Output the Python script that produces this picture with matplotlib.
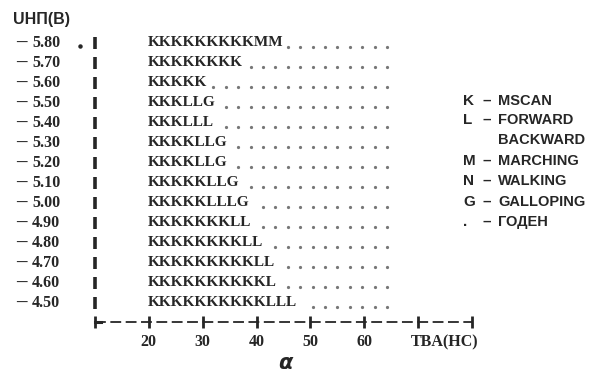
import matplotlib
matplotlib.use("Agg")
import matplotlib.pyplot as plt

# ---- data ----
voltages = [5.80, 5.70, 5.60, 5.50, 5.40, 5.30, 5.20, 5.10, 5.00, 4.90, 4.80, 4.70, 4.60, 4.50]
voltage_labels = ["5.80", "5.70", "5.60", "5.50", "5.40", "5.30", "5.20",
                  "5.10", "5.00", "4.90", "4.80", "4.70", "4.60", "4.50"]
rows = [
    "KKKKKKKKKMM.........",
    "KKKKKKKK............",
    "KKKKK...............",
    "KKKLLG..............",
    "KKKLLL..............",
    "KKKKLLG.............",
    "KKKKLLG.............",
    "KKKKKLLG............",
    "KKKKKLLLG...........",
    "KKKKKKKLL...........",
    "KKKKKKKKLL..........",
    "KKKKKKKKKLL.........",
    "KKKKKKKKKKL.........",
    "KKKKKKKKKKLLL.......",
]
pre_marks = [".", "", "", "", "", "", "", "", "", "", "", "", "", ""]
tba_ticks = [10, 20, 30, 40, 50, 60, 70, 80]
tba_labels = ["", "20", "30", "40", "50", "60", "", ""]
axis_title = "TBA(HC)"
y_title = "UHП(B)"
legend_syms = ["K", "L", "", "M", "N", "G", "."]
legend_names = ["MSCAN", "FORWARD", "BACKWARD", "MARCHING", "WALKING", "GALLOPING", "ГОДЕН"]
caption = "α"

# ---- layout ----
W, H = 613, 376
fig = plt.figure(figsize=(W / 100, H / 100), dpi=100)
ax = fig.add_axes([0, 0, 1, 1])
ax.set_xlim(-7.64, 106.18)
ax.set_ylim(4.135, 6.015)
ax.axis("off")

ink = "#262626"
serif = "Liberation Serif"
sans = "Liberation Sans"
px_y = 1 / 200.0      # volts per pixel
col_x0, col_dx = 20.5, 2.3

ax.text(-7.64 + 13 / 5.386, 5.915, y_title, family=sans, weight="bold",
        fontsize=11.5, color=ink, ha="left", va="center")

for v, lab, row, pre in zip(voltages, voltage_labels, rows, pre_marks):
    ax.text(-3.74, v, "–", family=serif, weight="bold", fontsize=15,
            color=ink, ha="center", va="center")
    ax.text(-1.70, v, lab, family=serif, weight="bold", fontsize=11.5,
            color=ink, ha="left", va="center")
    ax.plot([10.0], [v], marker="|", ms=8, mew=2.6, color=ink, ls="none")
    if pre:
        ax.plot([7.2], [v - 3 * px_y], marker="o", ms=2.2, color=ink, ls="none")
    letters = row.rstrip(".")
    ax.text(19.84, v, letters, family=serif, weight="bold", fontsize=11,
            color=ink, ha="left", va="center")
    xs = [col_x0 + j * col_dx for j, c in enumerate(row) if c == "."]
    ax.plot(xs, [v - 4 * px_y] * len(xs), marker="o", ms=1.3, color="#777777",
            ls="none")

# time axis
y_axis = 4.405
ax.plot([tba_ticks[0], tba_ticks[-1]], [y_axis, y_axis], color=ink, lw=1.3,
        dashes=(6, 2.5))
ax.plot(tba_ticks, [y_axis] * len(tba_ticks), marker="|", ms=8, mew=2.0,
        color=ink, ls="none")
ax.plot([tba_ticks[0], tba_ticks[0] + 1.2], [y_axis, y_axis], color=ink, lw=2.2)
for t, l in zip(tba_ticks, tba_labels):
    if l:
        ax.text(t, 4.305, l, family=serif, weight="bold", fontsize=11.5,
                color=ink, ha="center", va="center")
ax.text(75.0, 4.305, axis_title, family=serif, weight="bold", fontsize=11.5,
        color=ink, ha="center", va="center")
ax.text(45.3, 4.20, caption, family="DejaVu Sans", style="italic",
        weight="bold", fontsize=15, color=ink, ha="center", va="center")

# legend
legend_px = [101, 120, 140, 161, 181, 202, 222]
for s, n, p in zip(legend_syms, legend_names, legend_px):
    y = 5.80 - (p - 43) * px_y
    if s:
        ax.text(78.33, y, s, family=sans, weight="bold", fontsize=11,
                color=ink, ha="left", va="center")
        ax.text(82.78, y, "–", family=sans, weight="bold", fontsize=11,
                color=ink, ha="center", va="center")
    ax.text(84.82, y, n, family=sans, weight="bold", fontsize=10.5,
            color=ink, ha="left", va="center")

fig.savefig("out.png", dpi=100, facecolor="white")
